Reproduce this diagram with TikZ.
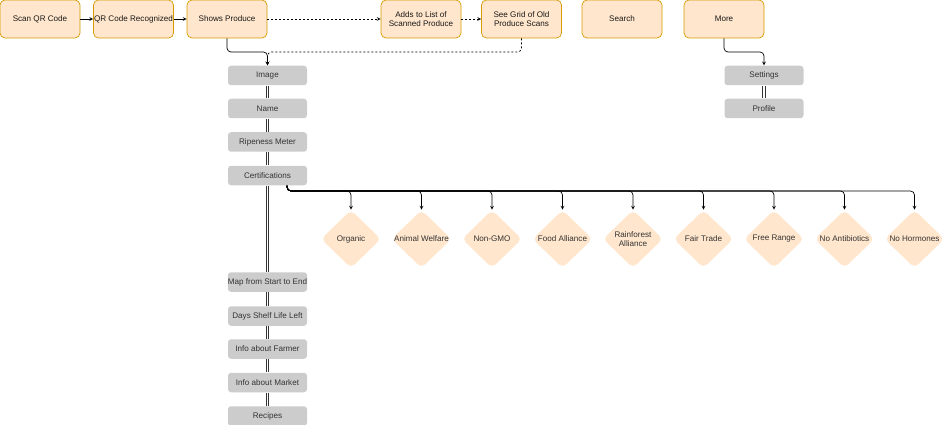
\documentclass[tikz,border=0pt]{standalone}
\usepackage{fontspec}
\setmainfont{Liberation Sans}
\usetikzlibrary{shapes.geometric, positioning}
\definecolor{peach}{HTML}{FFE6CC}
\definecolor{peachline}{HTML}{D79B00}
\definecolor{greybox}{HTML}{CCCCCC}
\definecolor{inktext}{HTML}{333333}

\tikzset{
  screen/.style={draw=peachline, fill=peach, rounded corners=5pt, minimum width=80pt,
    minimum height=38pt, align=center, inner sep=0pt, text=black!90},
  field/.style={fill=greybox, rounded corners=3pt, minimum width=79pt,
    minimum height=19.5pt, inner sep=0pt, text=inktext},
  badge/.style={diamond, fill=peach, rounded corners=5pt, minimum width=60pt,
    minimum height=58pt, inner sep=0pt},
  link/.style={draw=inktext, double=white, double distance=1.6pt, line width=0.75pt},
  optional/.style={dash pattern=on 2pt off 2pt},
}

\begin{document}
\begin{tikzpicture}[x=1pt, y=-1pt, font=\fontsize{8.1}{9.2}\selectfont, >=stealth, line width=0.7pt]
            \useasboundingbox (0,0) rectangle (945,425);
            % top row of screens
            \node[screen] (scan) at (40,19) {Scan QR Code};
            \node[screen] (recog) at (133.5,19) {QR Code Recognized};
            \node[screen] (shows) at (227,19) {Shows Produce};
            \node[screen] (adds) at (421,19) {Adds to List of\\Scanned Produce};
            \node[screen] (grid) at (521.5,19) {See Grid of Old\\Produce Scans};
            \node[screen] (search) at (622,19) {Search};
            \node[screen] (more) at (724,19) {More};
            \draw[->] (scan) -- (recog);
            \draw[->] (recog) -- (shows);
            \draw[->, optional] (shows) -- (adds);
            \draw[->, optional] (adds) -- (grid);
            % produce page
            \foreach\nm/\yy/\txt in {image/75.5/Image, name/108.5/Name, ripe/142/Ripeness Meter,
                cert/175.5/Certifications, map/282/Map from Start to End,
                shelf/316/Days Shelf Life Left, farmer/349/Info about Farmer,
                market/382.5/Info about Market, recipes/416/Recipes}{
              \node[field] (\nm) at (267.5,\yy) {\txt};
            }
            \foreach\a/\b in {image/name, name/ripe, ripe/cert, cert/map, map/shelf,
                shelf/farmer, farmer/market, market/recipes}{
              \draw[link] (\a) -- (\b);
            }
            \coordinate (imgin) at (267.5,52);
            \draw[->, rounded corners=4pt] (shows.south) |- (imgin) -- (image.north);
            \draw[->, optional, rounded corners=4pt] (grid.south) |- (imgin) -- (image.north);
            % more menu
            \node[field] (settings) at (764,75.5) {Settings};
            \node[field] (profile) at (764,108.5) {Profile};
            \draw[link] (settings.south) -- (profile.north);
            \coordinate (setin) at (764,52);
            \draw[->, rounded corners=4pt] (more.south) |- (setin) -- (settings.north);
            % certifications
            \coordinate (certbend) at (287,191);
            \foreach\nm/\xx/\txt in {organic/351/Organic, welfare/421.5/Animal Welfare,
                nongmo/492/Non-GMO, food/562.5/Food Alliance,
                rainforest/633/{Rainforest\\Alliance}, fair/703.5/Fair Trade,
                free/774/Free Range, antibio/844.5/No Antibiotics, hormones/914.5/No Hormones}{
              \node[badge, label={[text=inktext, align=center]center:\txt}] (\nm) at (\xx,239) {};
              \draw[->, rounded corners=4pt] (certbend |- cert.south) -- (certbend) -| (\nm.north);
            }
          \end{tikzpicture}
\end{document}
